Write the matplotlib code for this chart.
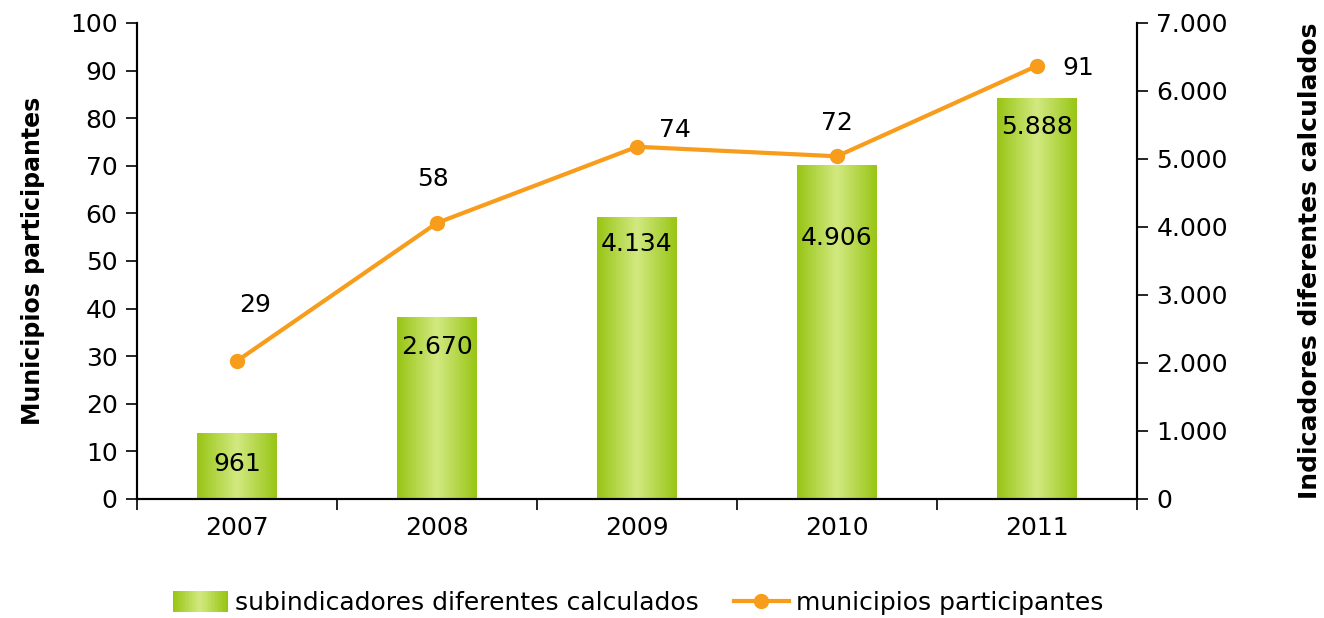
import numpy as np
import matplotlib
matplotlib.use("Agg")
import matplotlib.pyplot as plt
from matplotlib.colors import LinearSegmentedColormap
from matplotlib.legend_handler import HandlerBase
from matplotlib.patches import Rectangle
from matplotlib.lines import Line2D

# data
years = ['2007', '2008', '2009', '2010', '2011']
indicadores = [961, 2670, 4134, 4906, 5888]
municipios = [29, 58, 74, 72, 91]
bar_labels = ['961', '2.670', '4.134', '4.906', '5.888']

# label offsets in pixels (dx, dy) as placed in the original
bar_label_dy = [-30, -30, -26, -73, -28]
line_label_off = [(18, 56), (-4, 44), (38, 17), (0, 33), (41, -2)]

plt.rcParams['font.family'] = ['DejaVu Sans']
plt.rcParams['font.size'] = 18

green = LinearSegmentedColormap.from_list('verde', ['#98C514', '#D2E981', '#98C514'])
orange = '#F89C1C'

fig = plt.figure(figsize=(13.24, 6.18), dpi=100)
ax = fig.add_axes([137 / 1324, 1 - 499 / 618, 1000 / 1324, 476 / 618])
ax2 = ax.twinx()

x = np.arange(len(years))

# bars on the right axis, with a horizontal gradient
bars = ax2.bar(x, indicadores, width=0.4, color='none', zorder=1)
grad = np.linspace(0, 1, 256).reshape(1, -1)
for b in bars:
    x0, y0, w, h = b.get_x(), b.get_y(), b.get_width(), b.get_height()
    ax2.imshow(grad, cmap=green, extent=[x0, x0 + w, y0, y0 + h], aspect='auto', zorder=1)
for b, lab, dy in zip(bars, bar_labels, bar_label_dy):
    ax2.annotate(lab, (b.get_x() + b.get_width() / 2, b.get_height()),
                 xytext=(0, dy * 72 / 100), textcoords='offset points',
                 ha='center', va='center', fontsize=18, color='black', zorder=5)

# line on the left axis, drawn above the bars
ax.set_zorder(ax2.get_zorder() + 1)
ax.patch.set_visible(False)
ax.plot(x, municipios, color=orange, lw=3, marker='o', markersize=10, zorder=4)
for xi, v, (dx, dy) in zip(x, municipios, line_label_off):
    ax.annotate(str(v), (xi, v), xytext=(dx * 72 / 100, dy * 72 / 100),
                textcoords='offset points', ha='center', va='center', fontsize=18)

ax.set_xlim(-0.5, 4.5)
ax.set_ylim(0, 100)
ax2.set_ylim(0, 7000)
ax.set_yticks(range(0, 101, 10))
ax2.set_yticks(range(0, 7001, 1000))
ax2.set_yticklabels(['0', '1.000', '2.000', '3.000', '4.000', '5.000', '6.000', '7.000'])

ax.set_xticks(x)
ax.set_xticklabels(years)
ax.set_xticks(np.arange(-0.5, 5, 1), minor=True)
ax.tick_params(axis='x', which='major', length=0, pad=12)
ax.tick_params(axis='x', which='minor', length=8, width=1.2, direction='out')
ax.tick_params(axis='y', length=8, width=1.2, direction='out', pad=6)
ax2.tick_params(axis='y', length=8, width=1.2, direction='out', pad=6)

for a in (ax, ax2):
    a.spines['top'].set_visible(False)
    for s in ('left', 'right', 'bottom'):
        a.spines[s].set_linewidth(1.5)

ax.set_ylabel('Municipios participantes', fontweight='bold', fontsize=17, labelpad=18)
ax2.set_ylabel('Indicadores diferentes calculados', fontweight='bold', fontsize=18, labelpad=50)


class GradientHandler(HandlerBase):
    def create_artists(self, legend, orig, xd, yd, width, height, fontsize, trans):
        n = 40
        arts = []
        for i in range(n):
            r = Rectangle((xd + width * i / n, yd - 1), width / n + 0.3, height + 2,
                          facecolor=green(i / (n - 1)), edgecolor='none', transform=trans)
            arts.append(r)
        return arts


bar_handle = Rectangle((0, 0), 1, 1)
line_handle = Line2D([], [], color=orange, lw=3, marker='o', markersize=10)
fig.legend([bar_handle, line_handle],
           ['subindicadores diferentes calculados', 'municipios participantes'],
           handler_map={bar_handle: GradientHandler()},
           loc='center', bbox_to_anchor=(0.482, 0.024), ncol=2, frameon=False,
           handlelength=2.2, handletextpad=0.3, columnspacing=1.4, fontsize=18)

fig.savefig('out.png', dpi=100)
